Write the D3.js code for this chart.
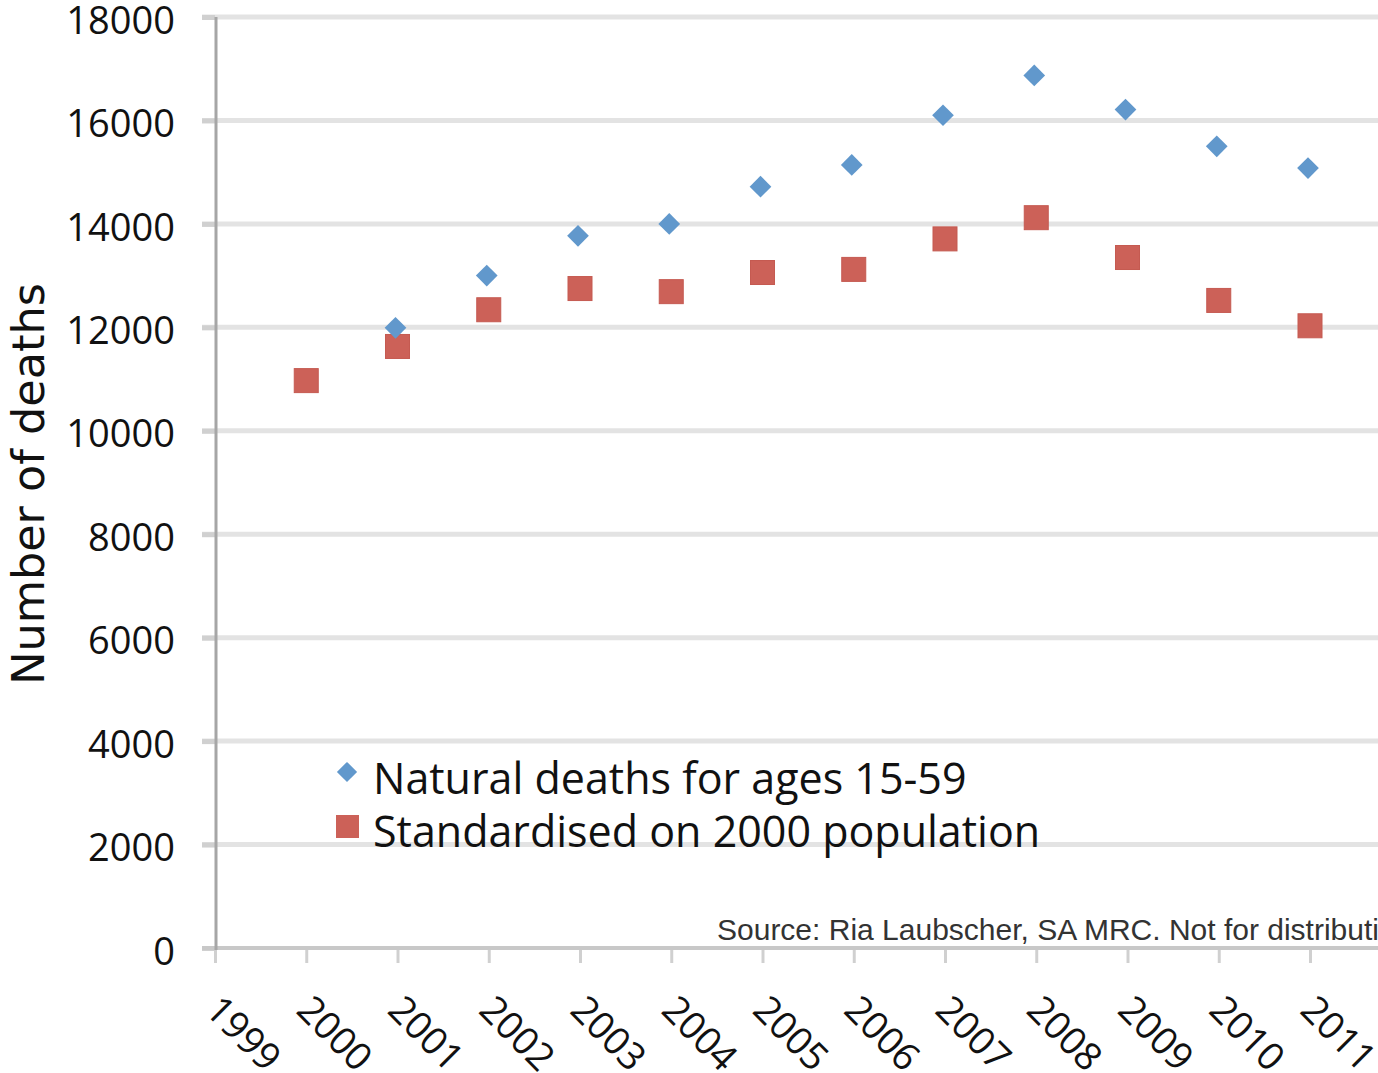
<!DOCTYPE html>
<html>
<head>
<meta charset="utf-8">
<script src="https://cdn.jsdelivr.net/npm/d3@7"></script>
<style>
  html, body { margin: 0; padding: 0; background: #fff; overflow: hidden; }
  svg { display: block; }
</style>
</head>
<body>
<svg id="chart" width="1378" height="1073"></svg>
<script>
// ---- Data ----
const years = [1999, 2000, 2001, 2002, 2003, 2004, 2005, 2006, 2007, 2008, 2009, 2010, 2011];
const naturalYears = [2001, 2002, 2003, 2004, 2005, 2006, 2007, 2008, 2009, 2010, 2011];
const naturalDeaths = [11990, 13000, 13770, 14000, 14720, 15140, 16100, 16870, 16210, 15500, 15080];
const standardYears = [2000, 2001, 2002, 2003, 2004, 2005, 2006, 2007, 2008, 2009, 2010, 2011];
const standardised = [10970, 11630, 12340, 12750, 12690, 13060, 13120, 13710, 14120, 13350, 12520, 12030];
const yTicks = [0, 2000, 4000, 6000, 8000, 10000, 12000, 14000, 16000, 18000];
const seriesNames = ["Natural deaths for ages 15-59", "Standardised on 2000 population"];
const yTitle = "Number of deaths";
const sourceText = "Source: Ria Laubscher, SA MRC. Not for distribution";

// ---- Layout ----
const svg = d3.select("#chart");
const x = d3.scaleLinear().domain([1999, 2011]).range([215, 1310]);
const y = d3.scaleLinear().domain([0, 18000]).range([948, 17]);
const gridRight = 1378;
const blue = "#6198cc", red = "#cc6158";
const font = "'Open Sans', 'Liberation Sans', sans-serif";

// gridlines
svg.append("g").selectAll("line")
  .data(yTicks.filter(d => d > 0))
  .join("line")
  .attr("x1", 202).attr("x2", gridRight)
  .attr("y1", d => y(d)).attr("y2", d => y(d))
  .attr("stroke", "#e3e3e3").attr("stroke-width", 5);

// y axis
const yAxis = svg.append("g")
  .attr("transform", "translate(215,0)")
  .call(d3.axisLeft(y).tickValues(yTicks).tickSize(13).tickPadding(27).tickFormat(d3.format("d")));
yAxis.select(".domain").remove();
yAxis.selectAll(".tick line").attr("stroke", "#d0d0d0").attr("stroke-width", 5);
yAxis.selectAll(".tick text").attr("font-family", font).attr("font-size", 38).attr("fill", "#111")
  .attr("y", 4);

// x axis
const xAxis = svg.append("g")
  .attr("transform", "translate(0,948)")
  .call(d3.axisBottom(x).tickValues(years).tickSize(15).tickFormat(d3.format("d")));
xAxis.select(".domain").remove();
xAxis.selectAll(".tick line").attr("stroke", "#d0d0d0").attr("stroke-width", 3);
xAxis.selectAll(".tick text")
  .attr("font-family", font).attr("font-size", 38).attr("fill", "#111")
  .attr("text-anchor", "start")
  .attr("dy", null).attr("y", 0)
  .attr("transform", "translate(-12,64) rotate(45)");

// x baseline
svg.append("line").attr("x1", 202).attr("x2", gridRight)
  .attr("y1", y(0)).attr("y2", y(0))
  .attr("stroke", "#c8c8c8").attr("stroke-width", 4);
// y axis line
svg.append("line").attr("x1", 216).attr("x2", 216)
  .attr("y1", y(18000)).attr("y2", y(0) + 2)
  .attr("stroke", "#a6a6a6").attr("stroke-width", 3);

// y title
svg.append("text")
  .attr("transform", `translate(44,${(283 + 685) / 2}) rotate(-90)`)
  .attr("text-anchor", "middle")
  .attr("font-family", "'DejaVu Sans', sans-serif").attr("font-size", 44.5).attr("fill", "#111")
  .text(yTitle);

// source
svg.append("text")
  .attr("x", 717).attr("y", 940)
  .attr("font-family", "'Liberation Sans', sans-serif")
  .attr("font-size", 30).attr("fill", "#333")
  .text(sourceText);

// series: standardised squares
const sq = 24;
svg.append("g").selectAll("rect")
  .data(standardYears.map((d, i) => ({ year: d, v: standardised[i] })))
  .join("rect")
  .attr("x", d => x(d.year) - sq / 2).attr("y", d => y(d.v) - sq / 2)
  .attr("width", sq).attr("height", sq)
  .attr("fill", red).attr("stroke", "#c55a51").attr("stroke-width", 1);

// series: natural deaths diamonds
const diamond = d3.symbol().type(d3.symbolDiamond2).size(300);
svg.append("g").selectAll("path")
  .data(naturalYears.map((d, i) => ({ year: d, v: naturalDeaths[i] })))
  .join("path")
  .attr("d", diamond)
  .attr("transform", d => `translate(${x(d.year) - 2},${y(d.v)})`)
  .attr("fill", blue);

// legend
const lg = svg.append("g");
lg.append("path").attr("d", d3.symbol().type(d3.symbolDiamond2).size(260)())
  .attr("transform", "translate(347,772)").attr("fill", blue);
lg.append("rect").attr("x", 336).attr("y", 815).attr("width", 23).attr("height", 23).attr("fill", red);
lg.selectAll("text").data(seriesNames).join("text")
  .attr("x", 373).attr("y", (d, i) => 794 + i * 53)
  .attr("font-family", font).attr("font-size", 43).attr("fill", "#111")
  .text(d => d);
</script>
</body>
</html>
